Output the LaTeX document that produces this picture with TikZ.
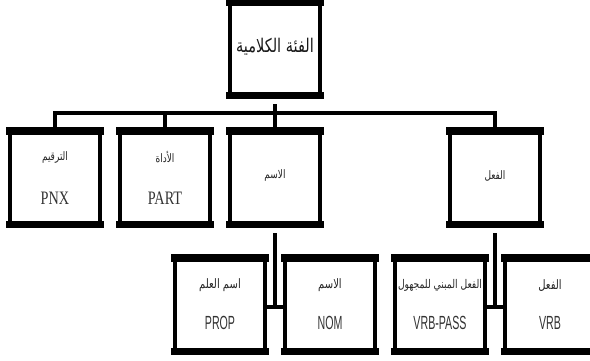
\documentclass[tikz,border=0pt]{standalone}
\usepackage{fontspec}
\setmainfont{Liberation Serif}
\newfontfamily\arabicfont[Script=Arabic]{DejaVu Sans}
\newfontfamily\condsans[FakeStretch=0.56]{Liberation Sans}
\newfontfamily\condserif[FakeStretch=0.75]{Liberation Serif}
\TeXXeTstate=1
\newcommand{\artall}[1]{\scalebox{1}[1.3]{\beginR #1\endR}}
\usetikzlibrary{shadows}
\begin{document}
\begin{tikzpicture}[x=1pt,y=1pt,
  box/.style={draw=black, line width=4pt, fill=white, minimum width=90pt,
    minimum height=93pt, inner sep=0pt,
    drop shadow={opacity=0.25, shadow xshift=0pt, shadow yshift=-3pt}},
  conn/.style={line width=3.2pt, black},
  artop/.style={font=\arabicfont\fontsize{14.5}{17}\selectfont, text=black!90},
  arsmall/.style={font=\arabicfont\fontsize{9}{11}\selectfont, text=black!85},
  armid/.style={font=\arabicfont\fontsize{10}{12}\selectfont, text=black!85},
  arlong/.style={font=\arabicfont\fontsize{9.2}{12}\selectfont, text=black!85},
  latserif/.style={font=\condserif\fontsize{19}{21}\selectfont, text=black!80},
  latsans/.style={font=\condsans\fontsize{19}{21}\selectfont, text=black!80}]
\useasboundingbox (0,0) rectangle (590,360);
\clip (0,0) rectangle (590,360);
% boxes
\node[box] (top) at (275,311.5) {};
\node[box] (pnx) at (55,182.5) {};
\node[box] (part) at (165,182.5) {};
\node[box] (ism) at (275,182.5) {};
\node[box] (fiil) at (495,182.5) {};
\node[box] (prop) at (220,55.5) {};
\node[box] (nom) at (330,55.5) {};
\node[box] (vpass) at (440,55.5) {};
\node[box] (vrb) at (550,55.5) {};
% thick top and bottom bands
\foreach \n in {top,pnx,part,ism,fiil,prop,nom,vpass,vrb}{
  \fill[black] ([xshift=-2pt,yshift=2pt]\n.north west) rectangle ([xshift=2pt,yshift=-6pt]\n.north east);
  \fill[black] ([xshift=-2pt,yshift=-2pt]\n.south west) rectangle ([xshift=2pt,yshift=5pt]\n.south east);
}
% texts
\node[artop] (ttop) at ([yshift=2]top.center) {\artall{الفئة الكلامية}};
\node[arsmall] (tpnxa) at ([yshift=20]pnx.center) {\artall{الترقيم}};
\node[latserif] (tpnxl) at ([yshift=-21]pnx.center) {PNX};
\node[arsmall] (tparta) at ([yshift=20]part.center) {\artall{الأداة}};
\node[latserif] (tpartl) at ([yshift=-21]part.center) {PART};
\node[arsmall] (tism) at ([yshift=2]ism.center) {\artall{الاسم}};
\node[arsmall] (tfiil) at ([yshift=2]fiil.center) {\artall{الفعل}};
\node[armid] (tpropa) at ([yshift=19]prop.center) {\artall{اسم العلم}};
\node[latsans] (tpropl) at ([yshift=-18]prop.center) {PROP};
\node[armid] (tnoma) at ([yshift=19]nom.center) {\artall{الاسم}};
\node[latsans] (tnoml) at ([yshift=-18]nom.center) {NOM};
\node[arlong] (tvpassa) at ([yshift=19]vpass.center) {\artall{الفعل المبني للمجهول}};
\node[latsans] (tvpassl) at ([yshift=-18]vpass.center) {VRB-PASS};
\node[armid] (tvrba) at ([yshift=19]vrb.center) {\artall{الفعل}};
\node[latsans] (tvrbl) at ([yshift=-18]vrb.center) {VRB};
% connectors
\coordinate (bus) at (275,247);
\draw[conn] ([yshift=-7pt]top.south) -- (bus);
\draw[conn] (pnx.north) |- (bus) -| (fiil.north);
\draw[conn] (part.north |- bus) -- (part.north);
\draw[conn] (ism.north |- bus) -- (ism.north);
\coordinate (jn) at (275,53);
\coordinate (jv) at (495,53);
\draw[conn] ([yshift=-7pt]ism.south) -- (jn);
\draw[conn] (prop.east |- jn) -- (nom.west |- jn);
\draw[conn] ([yshift=-7pt]fiil.south) -- (jv);
\draw[conn] (vpass.east |- jv) -- (vrb.west |- jv);
\end{tikzpicture}
\end{document}
